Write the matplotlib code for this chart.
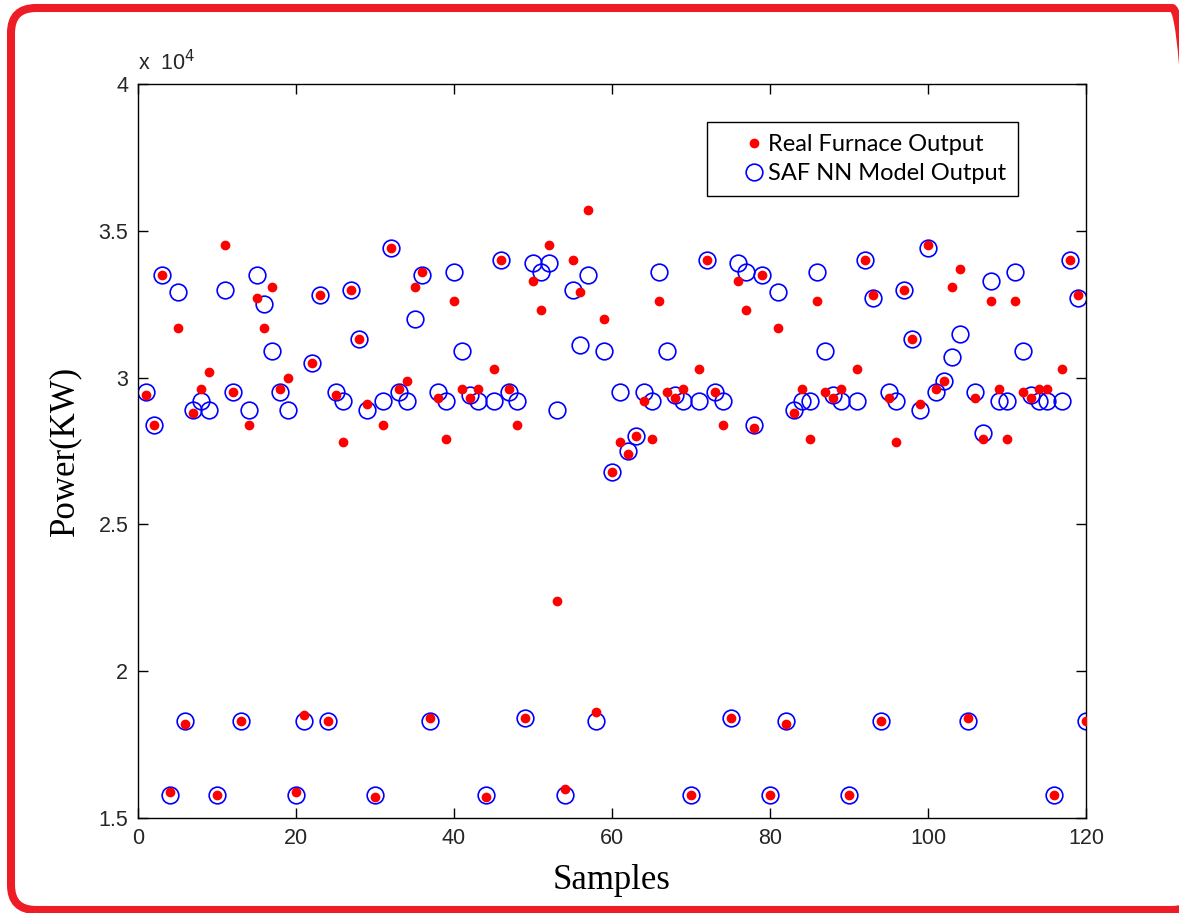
import numpy as np
import matplotlib
matplotlib.use("Agg")
import matplotlib.pyplot as plt
from matplotlib.patches import FancyBboxPatch
from matplotlib.transforms import IdentityTransform
from matplotlib.ticker import FuncFormatter

# Sample index
samples = np.arange(1, 121)

# Measured furnace power (kW)
real_output = np.array([
    29400, 28400, 33500, 15900, 31700, 18200, 28800, 29600, 30200, 15800,
    34500, 29500, 18300, 28400, 32700, 31700, 33100, 29600, 30000, 15900,
    18500, 30500, 32800, 18300, 29400, 27800, 33000, 31300, 29100, 15700,
    28400, 34400, 29600, 29900, 33100, 33600, 18400, 29300, 27900, 32600,
    29600, 29300, 29600, 15700, 30300, 34000, 29600, 28400, 18400, 33300,
    32300, 34500, 22400, 16000, 34000, 32900, 35700, 18600, 32000, 26800,
    27800, 27400, 28000, 29200, 27900, 32600, 29500, 29300, 29600, 15800,
    30300, 34000, 29500, 28400, 18400, 33300, 32300, 28300, 33500, 15800,
    31700, 18200, 28800, 29600, 27900, 32600, 29500, 29300, 29600, 15800,
    30300, 34000, 32800, 18300, 29300, 27800, 33000, 31300, 29100, 34500,
    29600, 29900, 33100, 33700, 18400, 29300, 27900, 32600, 29600, 27900,
    32600, 29500, 29300, 29600, 29600, 15800, 30300, 34000, 32800, 18300,
])

# Neural-network model prediction (kW)
model_output = np.array([
    29500, 28400, 33500, 15800, 32900, 18300, 28900, 29200, 28900, 15800,
    33000, 29500, 18300, 28900, 33500, 32500, 30900, 29500, 28900, 15800,
    18300, 30500, 32800, 18300, 29500, 29200, 33000, 31300, 28900, 15800,
    29200, 34400, 29500, 29200, 32000, 33500, 18300, 29500, 29200, 33600,
    30900, 29400, 29200, 15800, 29200, 34000, 29500, 29200, 18400, 33900,
    33600, 33900, 28900, 15800, 33000, 31100, 33500, 18300, 30900, 26800,
    29500, 27500, 28000, 29500, 29200, 33600, 30900, 29400, 29200, 15800,
    29200, 34000, 29500, 29200, 18400, 33900, 33600, 28400, 33500, 15800,
    32900, 18300, 28900, 29200, 29200, 33600, 30900, 29400, 29200, 15800,
    29200, 34000, 32700, 18300, 29500, 29200, 33000, 31300, 28900, 34400,
    29500, 29900, 30700, 31500, 18300, 29500, 28100, 33300, 29200, 29200,
    33600, 30900, 29400, 29200, 29200, 15800, 29200, 34000, 32700, 18300,
])

x_ticks = [0, 20, 40, 60, 80, 100, 120]
y_ticks = [15000, 20000, 25000, 30000, 35000, 40000]

W, H = 1179, 913
fig = plt.figure(figsize=(W / 100, H / 100), dpi=100)
fig.patch.set_facecolor("white")

# Rounded red frame around the figure, in pixel units (right side runs past the edge)
frame = FancyBboxPatch((11, 3), 1186, 902,
                       boxstyle="round,pad=0,rounding_size=25",
                       transform=IdentityTransform(), facecolor="none",
                       edgecolor="#ee1c25", linewidth=5.8, zorder=0)
fig.patches.append(frame)

ax = fig.add_axes([138 / W, 95 / H, 948 / W, 734 / H])

ax.plot(samples, model_output, linestyle="none", marker="o", markersize=12,
        markerfacecolor="none", markeredgecolor="#0000ff", markeredgewidth=1.2,
        label="SAF NN Model Output", zorder=2)
ax.plot(samples, real_output, linestyle="none", marker="o", markersize=6,
        markerfacecolor="#ff0000", markeredgecolor="#ff0000",
        label="Real Furnace Output", zorder=3)

ax.set_xlim(0, 120)
ax.set_ylim(15000, 40000)
ax.set_xticks(x_ticks)
ax.set_yticks(y_ticks)
ax.yaxis.set_major_formatter(FuncFormatter(lambda v, p: f"{v / 1e4:g}"))
ax.tick_params(direction="in", length=7, width=1, top=True, right=True,
               labelsize=15.5, labelcolor="#262626", pad=7)
for lab in ax.get_xticklabels() + ax.get_yticklabels():
    lab.set_fontfamily("Liberation Sans")
for sp in ax.spines.values():
    sp.set_linewidth(1.0)

ax.text(0.0, 1.012, "x  10$^4$", transform=ax.transAxes, fontsize=15.5,
        color="#262626", family="Liberation Sans", ha="left", va="bottom")

ax.set_xlabel("Samples", family="Liberation Serif", fontsize=25, labelpad=11)
ax.set_ylabel("Power(KW)", family="Liberation Serif", fontsize=25, labelpad=12)

handles, labels = ax.get_legend_handles_labels()
leg = ax.legend(handles[::-1], labels[::-1], loc="upper right",
                bbox_to_anchor=((1018 - 138) / 948, 1 - 38 / 734),
                frameon=True, fancybox=False, edgecolor="black", framealpha=1,
                prop={"family": "Lato", "size": 17}, handlelength=3.0,
                handletextpad=-0.9, borderpad=0.5, labelspacing=0.35,
                borderaxespad=0)
leg.get_frame().set_linewidth(1.0)

fig.savefig("out.png", dpi=100)
